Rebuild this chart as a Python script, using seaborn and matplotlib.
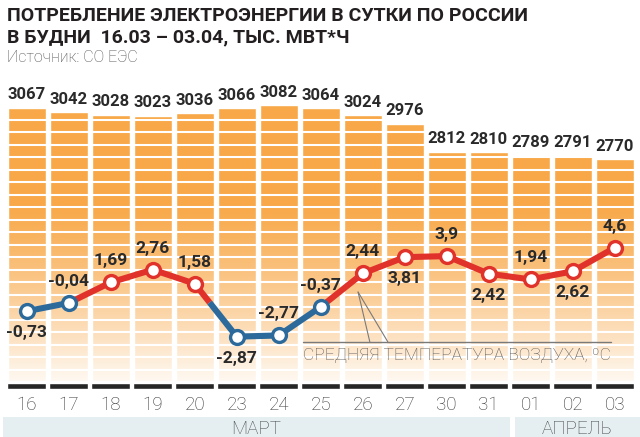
import numpy as np
import pandas as pd
import seaborn as sns
import matplotlib.pyplot as plt

days = ["16", "17", "18", "19", "20", "23", "24", "25", "26", "27", "30", "31", "01", "02", "03"]
consumption = [3067, 3042, 3028, 3023, 3036, 3066, 3082, 3064, 3024, 2976, 2812, 2810, 2789, 2791, 2770]
temperature = [-0.73, -0.04, 1.69, 2.76, 1.58, -2.87, -2.77, -0.37, 2.44, 3.81, 3.9, 2.42, 1.94, 2.62, 4.6]
months = ["МАРТ", "АПРЕЛЬ"]
month_days = [12, 3]

title = ["ПОТРЕБЛЕНИЕ ЭЛЕКТРОЭНЕРГИИ В СУТКИ ПО РОССИИ",
         "В БУДНИ  16.03 – 03.04, ТЫС. МВТ*Ч"]
source = "Источник: СО ЕЭС"
temp_caption = "СРЕДНЯЯ ТЕМПЕРАТУРА ВОЗДУХА, ºC"

# label above (1) or below (-1) the point
label_side = [-1, 1, 1, 1, 1, -1, 1, 1, 1, -1, 1, -1, 1, -1, 1]

ORANGE = "#F8A848"
RED = "#E0322B"
BLUE = "#2C6A9B"
DARK = "#262626"
BOLD_FONT = ["Roboto", "DejaVu Sans"]

sns.set_theme(style="white")
plt.rcParams["font.family"] = ["Roboto", "DejaVu Sans"]

fig = plt.figure(figsize=(6.4, 4.37), dpi=100)
n = len(days)
L, W = 5.7 / 640, 630 / 640


def fy(px):
    return 1 - px / 437


# --- bars ---
ax = fig.add_axes([L, fy(381), W, (381 - 90) / 437])
df = pd.DataFrame({"day": days, "mwh": consumption})
sns.barplot(data=df, x="day", y="mwh", color=ORANGE, saturation=1, width=0.9,
            ax=ax, zorder=1)
ax.bar_label(ax.containers[0], padding=4, fontsize=12, fontweight="bold",
             family=BOLD_FONT, color="#2a2a2a")
for s in np.arange(2997.4, 1484, -72.46):
    ax.axhline(s, color="white", lw=1.5, zorder=2)

# fade to white towards bottom
h = 300
f = np.linspace(0, 1, h)
alpha = np.clip(1 - f / 0.62, 0, 1) ** 1.2 * 0.93
img = np.ones((h, 1, 4))
img[:, 0, 3] = alpha
ax.imshow(img, extent=[0, 1, 0, 1], transform=ax.transAxes, origin="lower",
          aspect="auto", zorder=3, interpolation="bilinear")
ax.set_xlim(-0.5, n - 0.5)
ax.set_ylim(1484, 3171)
ax.axis("off")

# --- temperature ---
ax2 = ax.twinx()
ax2.set_ylim(-6.597, 17.86)
ax2.set_xlim(-0.5, n - 0.5)
ax2.axis("off")

t = np.array(temperature)
xs, ts = [0.0], [t[0]]
for i in range(1, n):
    if t[i - 1] * t[i] < 0:
        xs.append(i - 1 + t[i - 1] / (t[i - 1] - t[i]))
        ts.append(0.0)
    xs.append(float(i))
    ts.append(t[i])
xs, ts = np.array(xs), np.array(ts)
ax2.plot(xs, np.where(ts >= 0, ts, np.nan), color=RED, lw=4.4,
         solid_capstyle="butt", zorder=4)
ax2.plot(xs, np.where(ts <= 0, ts, np.nan), color=BLUE, lw=4.4,
         solid_capstyle="butt", zorder=4)

idx = np.arange(n)
for mask, col in [(t >= 0, RED), (t < 0, BLUE)]:
    sns.scatterplot(x=idx[mask], y=t[mask], color="white", edgecolor=col,
                    s=100, linewidth=2.4, ax=ax2, zorder=5)

for i, v in enumerate(temperature):
    txt = ("%g" % v).replace(".", ",")
    ax2.annotate(txt, (i, v), xytext=(0, 15.5 * label_side[i]),
                 textcoords="offset points", ha="center", va="center",
                 fontsize=12.5, fontweight="bold", family=BOLD_FONT,
                 color="#2a2a2a", zorder=6)

# caption with leader lines
ax2.plot([6.58, 13.9], [-3.32, -3.32], color="#7a7a7a", lw=1, zorder=4)
ax2.plot([7.89, 8.17], [0.88, -3.32], color="#7a7a7a", lw=0.8, zorder=4)
ax2.plot([7.89, 8.6], [0.88, -3.32], color="#7a7a7a", lw=0.8, zorder=4)
ax2.text(6.58, -4.83, temp_caption, fontsize=12.5, color="#555555",
         fontweight="light", ha="left", va="baseline", zorder=6)

# --- black base segments with day labels ---
axb = fig.add_axes([L, fy(389.3), W, 6.6 / 437])
sns.barplot(x=days, y=np.ones(n), color=DARK, saturation=1, width=0.92, ax=axb)
axb.set_xlim(-0.5, n - 0.5)
axb.set_ylim(0, 1)
axb.set_yticks([])
axb.set_xlabel("")
axb.set_ylabel("")
axb.tick_params(axis="x", length=0, pad=5, labelsize=13.5, labelcolor="#333333")
for lab in axb.get_xticklabels():
    lab.set_fontweight("light")
for sp in axb.spines.values():
    sp.set_visible(False)

# --- month band ---
axm = fig.add_axes([0, 0, 1, 20 / 437])
axm.set_xlim(-0.5 - 5.7 / 42, (640 - 26.7) / 42)
axm.set_ylim(0, 1)
axm.axis("off")
start = -0.56
edges = np.cumsum(month_days) - 0.5
for k, m in enumerate(months):
    lo = start if k == 0 else edges[k - 1] + 0.12
    hi = edges[k] if k < len(months) - 1 else 14.6
    axm.axvspan(lo, hi, color="#E5EEF1", lw=0)
    axm.text((lo + hi) / 2, 0.42, m, ha="center", va="center", fontsize=13.5,
             color="#444444", fontweight="light")

# --- titles ---
fig.text(0.011, fy(21), title[0], fontsize=14, fontweight="bold",
         family=BOLD_FONT, color="#231f20", va="baseline")
fig.text(0.011, fy(42), title[1], fontsize=14, fontweight="bold",
         family=BOLD_FONT, color="#231f20", va="baseline")
fig.text(0.011, fy(62), source, fontsize=11.5, color="#4a4a4a",
         fontweight="light", va="baseline")

fig.savefig("out.png", dpi=100)
